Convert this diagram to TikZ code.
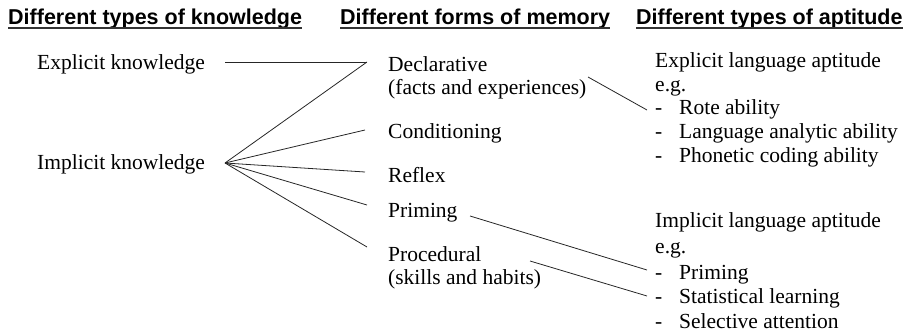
\documentclass[tikz,border=0pt]{standalone}
\usepackage{fontspec}
\setmainfont{Liberation Serif}
\newfontfamily\headfont{Liberation Sans}
\usetikzlibrary{calc}
\begin{document}
\begin{tikzpicture}[x=1pt,y=-1pt,
  every node/.style={inner sep=0pt, anchor=base west, font=\fontsize{21.5}{25}\selectfont},
  head/.style={font=\headfont\bfseries\fontsize{21.5}{25}\selectfont},
  uline/.style={draw=black!80, line width=1.3pt},
  conn/.style={draw=black!85, line width=0.8pt}]
\useasboundingbox (0,0) rectangle (911,334);

% headers
\node[head] (h1) at (8,25) {Different types of knowledge};
\node[head] (h2) at (340,25) {Different forms of memory};
\node[head] (h3) at (636,25) {Different types of aptitude};
\foreach \h in {h1,h2,h3}
  \draw[uline] ($(\h.base west)+(0,3)$) -- ($(\h.base east)+(0,3)$);

% knowledge
\node (ek) at (37,70) {Explicit knowledge};
\node (ik) at (37,170) {Implicit knowledge};

% memory
\node (decl)  at (388,72)  {Declarative};
\node (decl2) at (388,95)  {(facts and experiences)};
\node (cond)  at (388,139) {Conditioning};
\node (refl)  at (388,183) {Reflex};
\node (prim)  at (388,218) {Priming};
\node (proc)  at (388,261) {Procedural};
\node (proc2) at (388,284) {(skills and habits)};

% aptitude: explicit
\node (ea)  at (655,68)  {Explicit language aptitude};
\node (eeg) at (655,92)  {e.g.};
\node (ed1) at (655,115) {-}; \node (rote) at (679,115) {Rote ability};
\node (ed2) at (655,139) {-}; \node (lana) at (679,139) {Language analytic ability};
\node (ed3) at (655,163) {-}; \node (phon) at (679,163) {Phonetic coding ability};

% aptitude: implicit
\node (ia)  at (655,228) {Implicit language aptitude};
\node (ieg) at (655,253) {e.g.};
\node (id1) at (655,279) {-}; \node (iprim) at (679,279) {Priming};
\node (id2) at (655,303) {-}; \node (stat)  at (679,303) {Statistical learning};
\node (id3) at (655,328) {-}; \node (sel)   at (679,328) {Selective attention};

% connector end points
\coordinate (ekR)   at (225,62);
\coordinate (declL) at (367,62);
\coordinate (ikR)   at (225,163);
\coordinate (condL) at (365,130);
\coordinate (reflL) at (365,172);
\coordinate (primL) at (367,205);
\coordinate (procL) at (367,247);
\coordinate (declR) at (588,77);
\coordinate (roteL) at (647,110);
\coordinate (primR) at (470,216);
\coordinate (iprimL) at (647,270);
\coordinate (procR) at (530,261);
\coordinate (statL) at (647,296);

% connectors
\draw[conn] (ekR) -- (declL);
\draw[conn] (ikR) -- (declL);
\draw[conn] (ikR) -- (condL);
\draw[conn] (ikR) -- (reflL);
\draw[conn] (ikR) -- (primL);
\draw[conn] (ikR) -- (procL);
\draw[conn] (declR) -- (roteL);
\draw[conn] (primR) -- (iprimL);
\draw[conn] (procR) -- (statL);
\end{tikzpicture}
\end{document}
